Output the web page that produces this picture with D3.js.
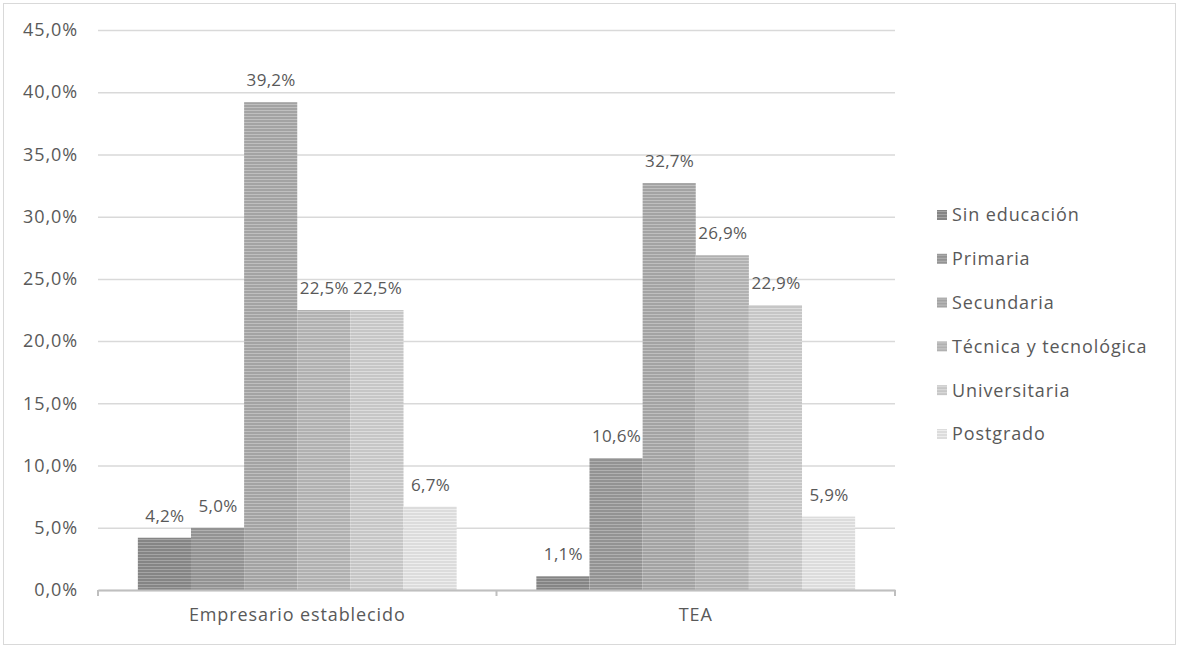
<!DOCTYPE html>
<html>
<head>
<meta charset="utf-8">
<script src="https://cdn.jsdelivr.net/npm/d3@7"></script>
<style>
  body { margin: 0; background: #fff; }
  text { font-family: "Open Sans", sans-serif; fill: #595959; letter-spacing: 0.9px; }
  text.lbl { letter-spacing: 0.3px; }
</style>
</head>
<body>
<div id="chart"></div>
<script>
// data
var categories = ["Empresario establecido", "TEA"];
var series = ["Sin educación", "Primaria", "Secundaria", "Técnica y tecnológica", "Universitaria", "Postgrado"];
var empresario = [4.2, 5.0, 39.2, 22.5, 22.5, 6.7];
var tea = [1.1, 10.6, 32.7, 26.9, 22.9, 5.9];
var yTicks = [0, 5, 10, 15, 20, 25, 30, 35, 40, 45];

// grey shades, darkest to lightest, with a lighter stripe colour
var baseColors = ["#858585", "#939393", "#a3a3a3", "#b1b1b1", "#c6c6c6", "#dcdcdc"];
var stripeColors = ["#a4a4a4", "#b0b0b0", "#bfbfbf", "#cacaca", "#dcdcdc", "#ededed"];

var values = [empresario, tea];

var svgWidth = 1179, svgHeight = 648;
var margin = { top: 30, left: 98, right: 284, bottom: 58 };
var width = svgWidth - margin.left - margin.right;
var height = svgHeight - margin.top - margin.bottom;

var svg = d3.select("#chart").append("svg")
  .attr("width", svgWidth)
  .attr("height", svgHeight);

// striped fills
var defs = svg.append("defs");
series.forEach(function(s, i) {
  var p = defs.append("pattern")
    .attr("id", "stripe" + i)
    .attr("patternUnits", "userSpaceOnUse")
    .attr("width", 8).attr("height", 3);
  p.append("rect").attr("width", 8).attr("height", 3).attr("fill", baseColors[i]);
  p.append("rect").attr("y", 2).attr("width", 8).attr("height", 1).attr("fill", stripeColors[i]);
});

// outer border
svg.append("rect")
  .attr("x", 3.5).attr("y", 3.5)
  .attr("width", svgWidth - 7).attr("height", svgHeight - 7)
  .attr("fill", "none").attr("stroke", "#d9d9d9");

var chartGroup = svg.append("g")
  .attr("transform", `translate(${margin.left}, ${margin.top})`);

var yScale = d3.scaleLinear().domain([0, 45]).range([height, 0]);
var x0 = d3.scaleBand().domain(categories).range([0, width]);
var x1 = d3.scaleBand().domain(series)
  .range([x0.bandwidth() * 0.1, x0.bandwidth() * 0.9]);

// gridlines + y labels
var leftAxis = d3.axisLeft(yScale)
  .tickValues(yTicks)
  .tickSize(-width)
  .tickPadding(20)
  .tickFormat(function(d) { return d.toFixed(1).replace(".", ",") + "%"; });

var yAxis = chartGroup.append("g").call(leftAxis);
yAxis.select(".domain").remove();
yAxis.selectAll("line").attr("stroke", "#d9d9d9").attr("stroke-width", 1.5);
yAxis.selectAll("text").attr("font-size", "18px").attr("fill", "#595959");

// bars
var groups = chartGroup.selectAll(".grp")
  .data(categories)
  .enter()
  .append("g")
  .attr("transform", d => `translate(${x0(d)}, 0)`);

groups.each(function(cat, ci) {
  var g = d3.select(this);
  var rows = series.map((s, i) => ({ s: s, i: i, v: values[ci][i] }));

  g.selectAll("rect")
    .data(rows)
    .enter()
    .append("rect")
    .attr("x", d => x1(d.s))
    .attr("y", d => yScale(d.v))
    .attr("width", x1.bandwidth())
    .attr("height", d => height - yScale(d.v))
    .attr("fill", d => `url(#stripe${d.i})`);

  g.selectAll(".lbl")
    .data(rows)
    .enter()
    .append("text")
    .classed("lbl", true)
    .attr("x", d => x1(d.s) + x1.bandwidth() / 2 + 0.5)
    .attr("y", d => yScale(d.v) - 16)
    .attr("text-anchor", "middle")
    .attr("font-size", "17px")
    .text(d => d.v.toFixed(1).replace(".", ",") + "%");
});

// x axis
var bottomAxis = d3.axisBottom(x0).tickSize(0).tickPadding(18);
var xAxis = chartGroup.append("g")
  .attr("transform", `translate(0, ${height})`)
  .call(bottomAxis);
xAxis.select(".domain").attr("stroke", "#bfbfbf").attr("stroke-width", 2);
xAxis.selectAll("text").attr("font-size", "18px").attr("fill", "#595959");

// boundary tick marks between categories
var edges = [0, x0.step(), width];
xAxis.selectAll(".edge")
  .data(edges)
  .enter()
  .append("line")
  .attr("x1", d => d).attr("x2", d => d)
  .attr("y1", 0).attr("y2", 6)
  .attr("stroke", "#bfbfbf").attr("stroke-width", 2);

// legend
var legend = svg.append("g")
  .attr("transform", "translate(937, 215)");

var legendItems = legend.selectAll(".item")
  .data(series)
  .enter()
  .append("g")
  .attr("transform", (d, i) => `translate(0, ${i * 43.8})`);

legendItems.append("rect")
  .attr("x", 0).attr("y", -5)
  .attr("width", 10).attr("height", 10)
  .attr("fill", (d, i) => `url(#stripe${i})`);

legendItems.append("text")
  .attr("x", 15)
  .attr("dy", "0.35em")
  .attr("font-size", "18px")
  .text(d => d);
</script>
</body>
</html>
